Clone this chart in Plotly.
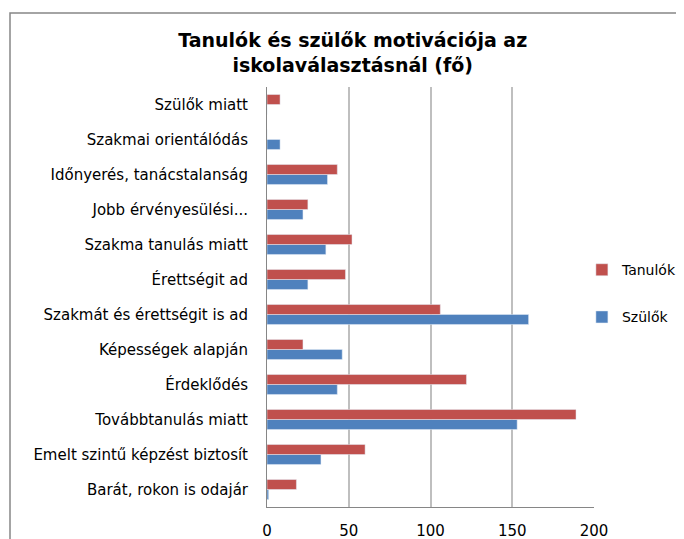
import plotly.graph_objects as go

categories = [
    "Barát, rokon is odajár",
    "Emelt szintű képzést biztosít",
    "Továbbtanulás miatt",
    "Érdeklődés",
    "Képességek alapján",
    "Szakmát és érettségit is ad",
    "Érettségit ad",
    "Szakma tanulás miatt",
    "Jobb érvényesülési...",
    "Időnyerés, tanácstalanság",
    "Szakmai orientálódás",
    "Szülők miatt",
]
szulok = [1, 33, 153, 43, 46, 160, 25, 36, 22, 37, 8, 0]
tanulok = [18, 60, 189, 122, 22, 106, 48, 52, 25, 43, 0, 8]
x_ticks = [0, 50, 100, 150, 200]

FONT = "DejaVu Sans"
L, R, T, B = 259, 98, 79, 40
PW, PH = 684 - L - R, 539 - T - B

fig = go.Figure()
fig.add_trace(go.Bar(y=categories, x=szulok, name="Szülők", orientation="h",
                     marker_color="#4F81BD", legendgroup="s", legendrank=2))
fig.add_trace(go.Bar(y=categories, x=tanulok, name="Tanulók", orientation="h",
                     marker_color="#C0504D", legendgroup="t", legendrank=1))

fig.update_layout(
    width=684, height=539,
    margin=dict(l=L, r=R, t=T, b=B, autoexpand=False),
    paper_bgcolor="white", plot_bgcolor="white",
    barmode="group", bargap=0.43, bargroupgap=0,
    title=dict(text="<b>Tanulók és szülők motivációja az<br>iskolaválasztásnál (fő)</b>",
               x=0.504, xref="container", xanchor="center",
               y=0.928, yref="container", yanchor="top",
               font=dict(family=FONT, size=19, color="black")),
    font=dict(family=FONT, size=15, color="black"),
    showlegend=True,
    legend=dict(x=0.963, y=0.508, xanchor="left", yanchor="middle",
                traceorder="grouped", tracegroupgap=26,
                font=dict(family=FONT, size=14), itemwidth=30),
    xaxis=dict(range=[0, 200], tickvals=x_ticks, showgrid=True, gridcolor="#BFBFBF",
               gridwidth=1.5, showline=True, linecolor="#868686", linewidth=1,
               ticks="", tickfont=dict(size=15), zeroline=False,
               ticklabelstandoff=10),
    yaxis=dict(showline=True, linecolor="#868686", linewidth=1, ticks="",
               ticklabelstandoff=15, tickfont=dict(size=15)),
    shapes=[dict(type="rect", xref="paper", yref="paper",
                 x0=(2 - L) / PW, x1=(720 - L) / PW,
                 y0=(T + PH - 580) / PH, y1=(T + PH - 5) / PH,
                 line=dict(color="#868686", width=1.5), fillcolor="rgba(0,0,0,0)",
                 layer="below")],
)

fig.write_html("out.html")
